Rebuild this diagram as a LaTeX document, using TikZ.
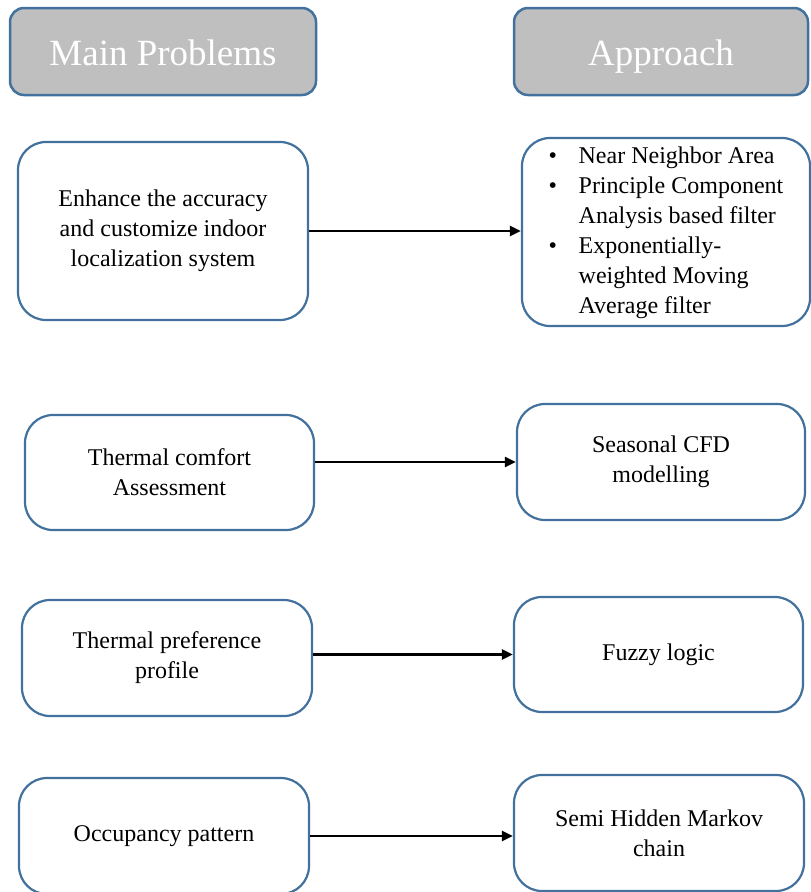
\documentclass[tikz,border=0pt]{standalone}
\usepackage{fontspec}
\setmainfont{Liberation Serif}
\usetikzlibrary{arrows.meta}
\definecolor{bord}{HTML}{41719C}
\definecolor{hdr}{HTML}{BFBFBF}
\begin{document}
\begin{tikzpicture}[x=1pt,y=-1pt,
  box/.style={draw=bord, line width=2.2pt, rounded corners=28pt, fill=white, align=center,
    font=\fontsize{24}{30}\selectfont, inner sep=0pt},
  hdrbox/.style={draw=bord, line width=2.5pt, rounded corners=14pt, fill=hdr, text=white,
    font=\fontsize{37}{40}\selectfont, inner sep=0pt, text height=27pt, text depth=0pt},
  arr/.style={-{Triangle[length=11pt,width=10pt]}, line width=2.3pt, black}]
\useasboundingbox (0,0) rectangle (811,892);
% headers
\node[hdrbox, minimum width=306pt, minimum height=87pt] (H1) at (163,51.5) {Main Problems};
\node[hdrbox, minimum width=294pt, minimum height=87pt] (H2) at (661,51.5) {Approach};
% row 1
\node[box, minimum width=290pt, minimum height=178pt] (L1) at (163,231)
  {Enhance the accuracy\\and customize indoor\\localization system};
\node[box, minimum width=288pt, minimum height=188pt] (R1) at (666,232)
  {\begin{tabular}{@{}p{30pt}@{}l@{}}%
  •&Near Neighbor Area\\
  •&Principle Component\\
   &Analysis based filter\\
  •&Exponentially-\\
   &weighted Moving\\
   &Average filter\end{tabular}};
% row 2
\node[box, minimum width=289pt, minimum height=115pt] (L2) at (169.5,472.5)
  {Thermal comfort\\Assessment};
\node[box, minimum width=288pt, minimum height=116pt] (R2) at (661,462)
  {Seasonal CFD\\modelling};
% row 3
\node[box, minimum width=290pt, minimum height=116pt] (L3) at (167,658)
  {Thermal preference\\profile};
\node[box, minimum width=289pt, minimum height=115pt] (R3) at (658.5,654.5)
  {Fuzzy logic};
% row 4
\node[box, minimum width=290pt, minimum height=116pt] (L4) at (164,836)
  {Occupancy pattern};
\node[box, minimum width=290pt, minimum height=116pt] (R4) at (659,833)
  {Semi Hidden Markov\\chain};
% arrows
\draw[arr] (L1.east) -- (L1.east -| R1.west);
\draw[arr] (L2.east |- R2.west) -- (R2.west);
\draw[arr] (L3.east |- R3.west) -- (R3.west);
\draw[arr] (L4.east) -- (L4.east -| R4.west);
\end{tikzpicture}
\end{document}
